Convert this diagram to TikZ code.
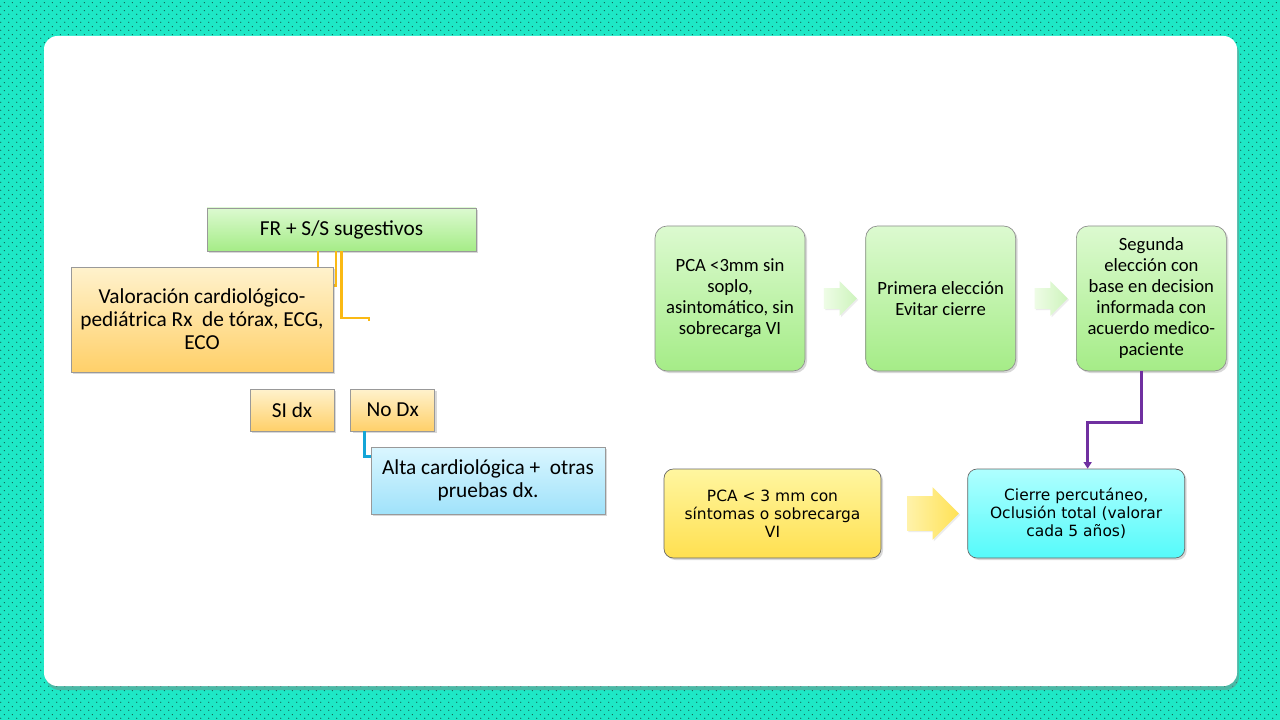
\documentclass[tikz,border=0pt]{standalone}
\usepackage{fontspec}
\setmainfont{Carlito}
\newfontfamily\verdana{DejaVu Sans}
\usetikzlibrary{arrows.meta, positioning, shapes.arrows, shadows, patterns}

\definecolor{tealbg}{RGB}{30,232,198}
\definecolor{dotcol}{RGB}{20,95,80}
\definecolor{orangeline}{RGB}{250,185,20}
\definecolor{blueline}{RGB}{20,165,215}
\definecolor{purpleline}{RGB}{112,48,160}

\pgfdeclarepatternformonly{bgdots}{\pgfqpoint{0pt}{0pt}}{\pgfqpoint{6pt}{6pt}}{\pgfqpoint{6pt}{6pt}}{%
  \pgfpathcircle{\pgfqpoint{1.5pt}{1.5pt}}{0.5pt}%
  \pgfpathcircle{\pgfqpoint{4.5pt}{4.5pt}}{0.5pt}%
  \pgfusepath{fill}}

\begin{document}
\begin{tikzpicture}[
        x=0.75pt, y=-0.75pt,
        box/.style={
            rectangle,
            inner sep=2pt,
            align=center,
            draw=black!40,
            line width=0.5pt,
            drop shadow={shadow xshift=1.5pt, shadow yshift=-1.5pt, opacity=0.3}
        },
        greenbox/.style={
            box,
            top color={rgb,255:red,220;green,250;blue,208},
            bottom color={rgb,255:red,165;green,236;blue,135}
        },
        orangebox/.style={
            box,
            top color={rgb,255:red,255;green,242;blue,205},
            bottom color={rgb,255:red,255;green,208;blue,105}
        },
        bluebox/.style={
            box,
            top color={rgb,255:red,218;green,246;blue,255},
            bottom color={rgb,255:red,160;green,226;blue,250}
        },
        stepbox/.style={
            greenbox,
            rounded corners=9pt,
            draw=black!45,
            minimum width=112.5pt,
            minimum height=108.75pt,
            font=\fontsize{14}{15.75}\selectfont
        },
        bigfont/.style={font=\fontsize{16}{17.25}\selectfont},
        lowbox/.style={
            box,
            rounded corners=7pt,
            draw=black!60,
            minimum width=162.75pt,
            minimum height=66.75pt,
            font=\verdana\fontsize{11.6}{13.5}\selectfont
        },
        greenarrow/.style={
            single arrow,
            inner sep=7.5pt,
            single arrow head extend=5.25pt,
            minimum height=24.75pt,
            left color={rgb,255:red,238;green,252;blue,230},
            right color={rgb,255:red,205;green,244;blue,188},
            drop shadow={shadow xshift=1pt, shadow yshift=-1pt, opacity=0.15}
        },
        yellowarrow/.style={
            single arrow,
            inner sep=12.75pt,
            single arrow head extend=6.75pt,
            minimum height=36pt,
            left color={rgb,255:red,255;green,242;blue,170},
            right color={rgb,255:red,255;green,226;blue,85},
            drop shadow={shadow xshift=1pt, shadow yshift=-1pt, opacity=0.15}
        },
        orangelink/.style={orangeline, line width=2pt},
        bluelink/.style={blueline, line width=2pt},
        arrow/.style={
            purpleline,
            line width=2.25pt,
            -{Triangle[length=5pt, width=6pt]}
        }
    ]
        \useasboundingbox (0,0) rectangle (1280,720);
        \fill [tealbg] (0,0) rectangle (1280,720);
        \fill [pattern=bgdots, pattern color=dotcol] (0,0) rectangle (1280,720);
        \fill [white, rounded corners=10pt, drop shadow={shadow xshift=1.5pt, shadow yshift=-3pt, opacity=0.45}] (44,36) rectangle (1237,686);

        \node (fr) [greenbox, bigfont, minimum width=201.75pt, minimum height=32.25pt] at (341.5,229.5) {FR + S/S sugestivos};
        \coordinate (stub) at (369,321);
        \draw [orangelink] ([xshift=-17.6pt]fr.south) -- ++(0,16);
        \draw [orangelink] ([xshift=-4.1pt]fr.south) -- ++(0,34) -- ++(-4,0);
        \draw [orangelink] (fr.south) |- ([yshift=2.25pt]stub) -- (stub);
        \node (val) [orangebox, bigfont, minimum width=196.5pt, minimum height=78.75pt] at (202,319.5) {Valoración cardiológico-\\pediátrica Rx\ \ de tórax, ECG,\\ECO};
        \node (sidx) [orangebox, bigfont, minimum width=63pt, minimum height=31.5pt] at (292,410) {SI dx};
        \node (nodx) [orangebox, bigfont, minimum width=63pt, minimum height=31.5pt, right=12pt of sidx] {No Dx};
        \node (alta) [bluebox, bigfont, minimum width=175.5pt, minimum height=50.25pt] at (488,480.5) {Alta cardiológica +\ \ otras\\pruebas dx.};
        \draw [bluelink] ([xshift=-21pt]nodx.south) |- ([yshift=-7.5pt]alta.north west);

        \node (pcasin) [stepbox] at (730,298.5) {PCA <3mm sin\\soplo,\\asintomático, sin\\sobrecarga VI};
        \node (primera) [stepbox, right=45pt of pcasin] {Primera elección\\Evitar cierre};
        \node (segunda) [stepbox, right=45pt of primera] {Segunda\\elección con\\base en decision\\informada con\\acuerdo medico-\\paciente};
        \path (pcasin) -- node[greenarrow] (arrowa) {} (primera);
        \path (primera) -- node[greenarrow] (arrowb) {} (segunda);

        \node (pcacon) [lowbox, top color={rgb,255:red,255;green,246;blue,160}, bottom color={rgb,255:red,255;green,224;blue,80}] at (772.5,513.5) {PCA < 3 mm con\\síntomas o sobrecarga\\VI};
        \node (cierre) [lowbox, top color={rgb,255:red,175;green,255;blue,255}, bottom color={rgb,255:red,85;green,250;blue,250}, right=64.5pt of pcacon] {Cierre percutáneo,\\Oclusión total (valorar\\cada 5 años)};
        \path (pcacon) -- node[yellowarrow] (arrowc) {} (cierre);

        \draw [arrow] ([xshift=-7.1pt]segunda.south) -- ++(0,51) -| ([xshift=8.6pt]cierre.north);

    \end{tikzpicture}
\end{document}
